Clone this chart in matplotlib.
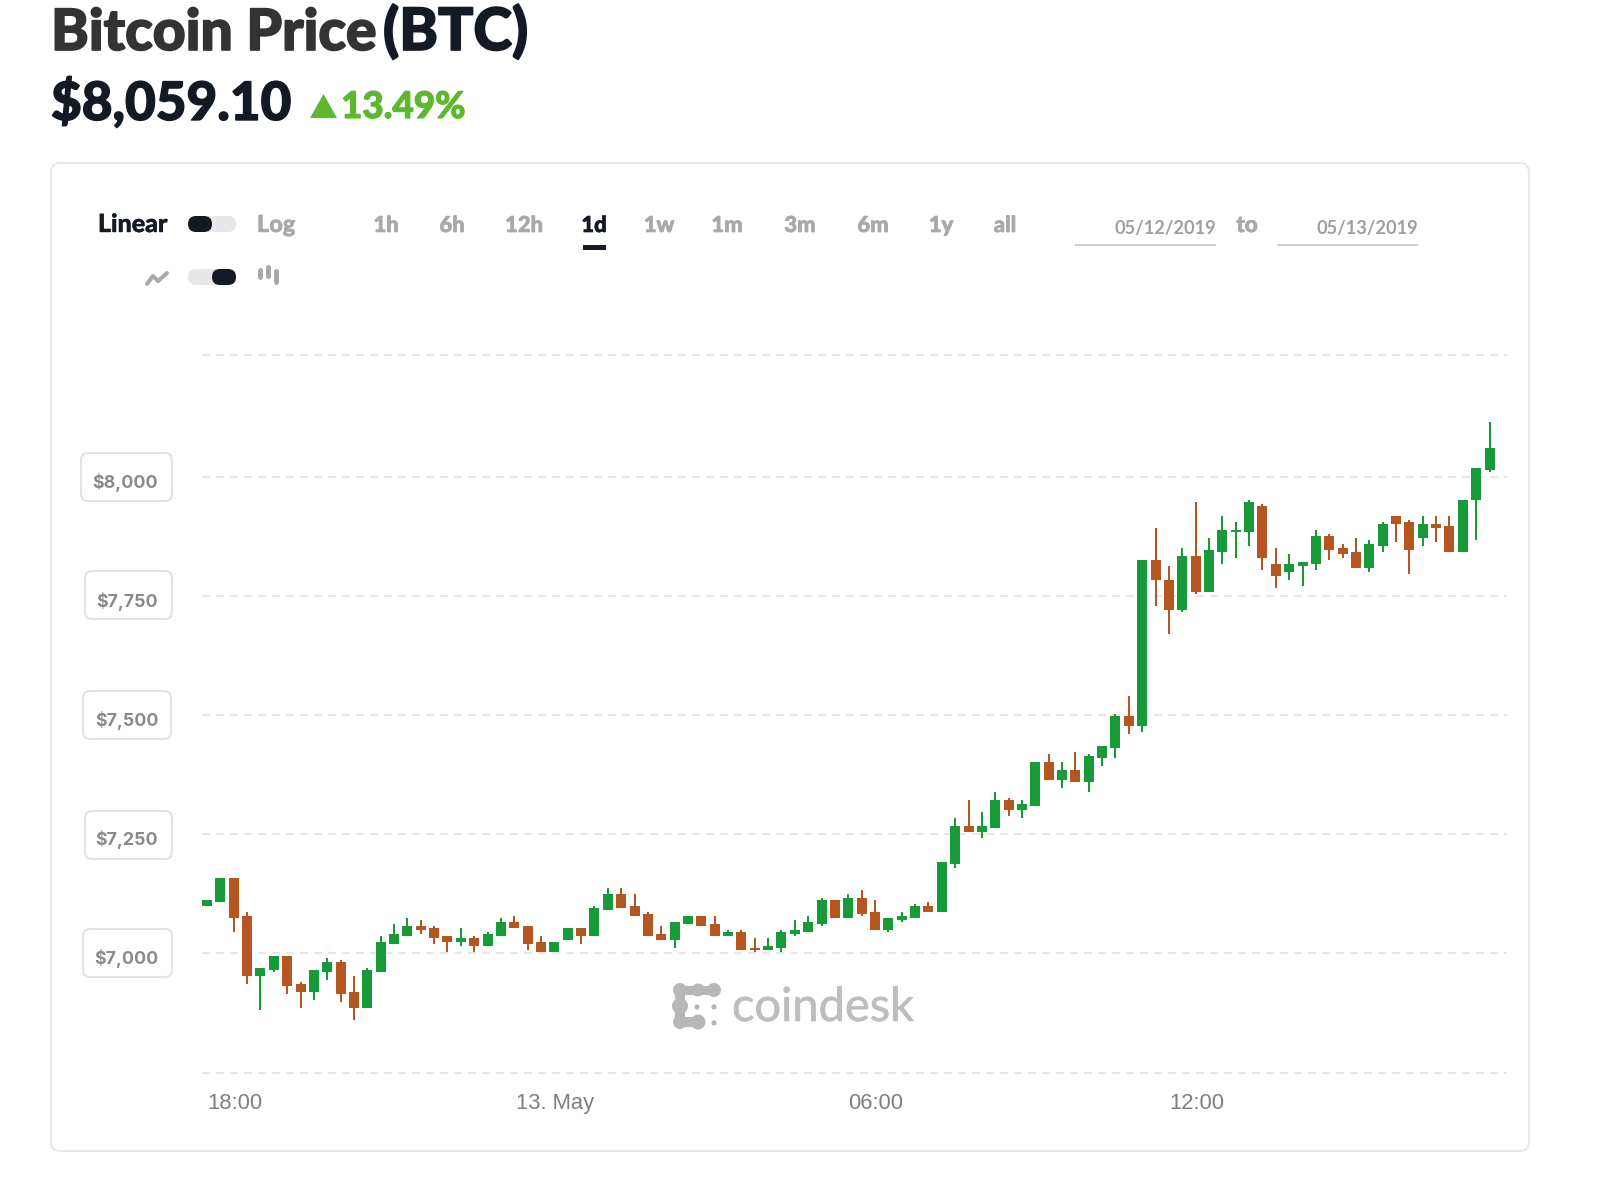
import matplotlib
matplotlib.use("Agg")
import numpy as np
import matplotlib.pyplot as plt
import matplotlib.patheffects as pe
from matplotlib.patches import FancyBboxPatch, Polygon, Circle
from matplotlib.transforms import ScaledTranslation

# ---- data (USD, 15-minute candles) ----
opens = [7098,7107,7157,7077,6951,6964,6993,6935,6918,6960,6981,6918,6884,6960,7019,7035,7056,7052,7035,7023,
         7031,7014,7035,7065,7056,7023,7002,7027,7052,7035,7090,7124,7098,7082,7040,7027,7061,7077,7061,7035,
         7044,7010,7006,7010,7040,7044,7061,7111,7073,7115,7086,7048,7069,7073,7098,7086,7186,7266,7254,7262,
         7321,7300,7308,7401,7363,7384,7359,7409,7430,7497,7476,7825,7783,7720,7833,7758,7842,7884,7884,7938,
         7817,7800,7812,7817,7875,7850,7842,7808,7854,7917,7905,7871,7901,7896,7842,7951,8014]
highs = [7111,7157,7157,7086,6968,6993,6993,6939,6964,6989,6985,6951,6968,7035,7061,7073,7069,7056,7035,7052,
         7035,7044,7073,7077,7056,7035,7023,7052,7052,7098,7136,7136,7124,7086,7056,7065,7077,7077,7077,7048,
         7048,7031,7031,7048,7069,7077,7115,7111,7124,7132,7111,7073,7086,7103,7107,7191,7283,7321,7296,7338,
         7325,7321,7401,7418,7401,7422,7418,7434,7502,7539,7825,7892,7812,7850,7947,7871,7917,7905,7951,7943,
         7850,7838,7821,7888,7880,7859,7871,7867,7905,7917,7909,7917,7917,7917,7951,8018,8115]
lows = [7098,7107,7044,6935,6880,6960,6914,6884,6901,6943,6897,6859,6884,6960,7019,7035,7040,7019,7002,7014,
        7002,7014,7035,7052,7006,7002,7002,7027,7019,7035,7090,7094,7077,7035,7027,7010,7061,7056,7035,7035,
        7006,7002,7006,7002,7035,7044,7056,7073,7073,7077,7048,7044,7065,7073,7086,7086,7178,7254,7241,7262,
        7287,7283,7308,7363,7346,7359,7338,7392,7409,7460,7464,7728,7670,7716,7754,7758,7817,7829,7854,7804,
        7766,7783,7770,7804,7825,7829,7808,7800,7842,7863,7796,7854,7863,7842,7842,7867,8010]
closes = [7111,7157,7073,6951,6968,6993,6930,6918,6964,6981,6914,6884,6964,7023,7040,7056,7048,7031,7023,7031,
          7014,7040,7065,7052,7019,7002,7023,7052,7035,7094,7124,7094,7077,7035,7027,7065,7077,7056,7035,7044,
          7006,7006,7014,7044,7048,7065,7111,7073,7115,7082,7048,7073,7077,7098,7086,7191,7266,7254,7266,7321,
          7300,7313,7401,7363,7384,7359,7413,7434,7497,7476,7825,7783,7720,7833,7758,7846,7888,7888,7947,7829,
          7791,7817,7821,7875,7846,7838,7808,7859,7901,7901,7846,7901,7892,7842,7951,8018,8060]

price_ticks = [7000, 7250, 7500, 7750, 8000]
price_labels = ["$7,000", "$7,250", "$7,500", "$7,750", "$8,000"]
grid_levels = [6747, 7000, 7250, 7500, 7750, 8000, 8256]
time_ticks = [2, 26, 50, 74]
time_labels = ["18:00", "13. May", "06:00", "12:00"]
ranges = ["1h", "6h", "12h", "1d", "1w", "1m", "3m", "6m", "1y", "all"]

UP = "#169b38"; DOWN = "#b55620"; GRID = "#e6e6e6"; DARK = "#141a24"; MUTED = "#a7a9ac"
W, H = 1598, 1190
HEAD = "Lato"
px = 0.72

fig = plt.figure(figsize=(W/100, H/100), dpi=100, facecolor="white")
bg = fig.add_axes([0, 0, 1, 1], zorder=0)
bg.set_xlim(0, W); bg.set_ylim(H, 0); bg.axis("off")

def rbox(x0, y0, x1, y1, r, fc="none", ec="none", lw=0.0):
    bg.add_patch(FancyBboxPatch((x0+r, y0+r), x1-x0-2*r, y1-y0-2*r,
                                boxstyle=f"round,pad={r},rounding_size={r}",
                                fc=fc, ec=ec, lw=lw))

def label(x, y, s, size, color, weight="bold", ha="left", family=HEAD, stroke=0.0):
    t = bg.text(x, y, s, fontsize=size*px, color=color, fontweight=weight,
                ha=ha, va="baseline", family=family)
    if stroke:
        t.set_path_effects([pe.withStroke(linewidth=stroke, foreground=color)])
    return t

# header
label(51, 50, "Bitcoin Price", 57, "#333333", weight="black", stroke=1.2)
label(383, 50, "(BTC)", 58.5, DARK, weight="black", stroke=1.2)
label(51, 120, "$8,059.10", 53, DARK, weight="black", stroke=1.0)
bg.add_patch(Polygon([[310, 118], [337, 118], [323.5, 94]], closed=True, fc="#5db82e", ec="none"))
label(341, 118, "13.49%", 36.8, "#5db82e", weight="black", stroke=0.8)

# card
rbox(51, 163, 1529, 1151, 9, fc="white", ec="#e8e8e8", lw=2*px)

# controls
label(98, 232, "Linear", 25, DARK, weight="black", stroke=0.3)
rbox(188, 216, 236, 232, 8, fc="#e6e7e9")
rbox(188, 216, 212, 232, 8, fc=DARK)
label(257, 232, "Log", 23.5, MUTED, weight="black", stroke=0.4)
range_x = [386, 452, 524, 594, 659, 727, 800, 873, 941, 1005]
for s, x in zip(ranges, range_x):
    label(x, 232, s, 22, DARK if s == "1d" else MUTED, weight="black", ha="center", stroke=0.5)
bg.add_patch(plt.Rectangle((583, 244.5), 23, 5, fc=DARK, ec="none"))
label(1216, 234, "05/12/2019", 18.3, "#9d9fa3", weight="bold", ha="right")
bg.plot([1076, 1215], [245, 245], color="#cfcfcf", lw=2*px)
label(1247, 232, "to", 22.5, MUTED, weight="black", ha="center", stroke=0.5)
label(1418, 234, "05/13/2019", 18.3, "#9d9fa3", weight="bold", ha="right")
bg.plot([1278, 1417], [245, 245], color="#cfcfcf", lw=2*px)
bg.plot([147, 153, 158, 167], [284, 276, 281, 273], color=MUTED, lw=4*px, solid_capstyle="round", solid_joinstyle="round")
rbox(188, 269, 236, 285, 8, fc="#e6e7e9")
rbox(212, 269, 236, 285, 8, fc=DARK)
for x, y0, y1 in [(259.5, 270, 277), (267.5, 267, 276), (275.5, 271, 282)]:
    bg.plot([x, x], [y0, y1], color=MUTED, lw=5*px, solid_capstyle="round")

# y label boxes
for x0, x1, y0 in [(81, 172, 453), (85, 172, 571), (83, 171, 691), (85, 172, 811), (83, 172, 929)]:
    rbox(x0, y0, x1, y0+48, 7, fc="white", ec="#e2e2e2", lw=2*px)

# logo
LOGO = "#b7b7b7"
bg.plot([680, 713], [990, 990], color=LOGO, lw=9*px)
bg.plot([680, 680, 698], [990, 1022, 1022], color=LOGO, lw=10*px, solid_joinstyle="round")
for cx, cy, r in [(680, 990, 7), (698, 990, 6.5), (714, 990, 7), (680, 1006, 8), (680, 1022, 7), (698, 1022, 7.5)]:
    bg.add_patch(Circle((cx, cy), r, fc=LOGO, ec="none"))
for cx, cy in [(697, 1007), (714, 1007), (714, 1023)]:
    bg.add_patch(Circle((cx, cy), 2.6, fc=LOGO, ec="none"))
label(732, 1021, "coindesk", 47, "#bdbdbd", weight="normal", stroke=0.4)

# chart
ax_top, ax_bot = 345, 1085
ax_left, ax_right = 202, 1506.5
ax = fig.add_axes([ax_left/W, 1-ax_bot/H, (ax_right-ax_left)/W, (ax_bot-ax_top)/H], zorder=1)
ax.patch.set_alpha(0)
for s in ax.spines.values():
    s.set_visible(False)
x = np.arange(len(opens))
o, c, h, l = map(np.array, (opens, closes, highs, lows))
colors = [UP if b >= a else DOWN for a, b in zip(o, c)]
for lev in grid_levels:
    ax.axhline(lev, color=GRID, lw=2*px, ls=(0, (4, 3)), zorder=1)
ax.vlines(x, l, h, colors=colors, lw=2*px, zorder=2)
ax.bar(x, np.abs(c-o), bottom=np.minimum(o, c), width=10/13.36, color=colors, linewidth=0, zorder=3)
ax.set_xlim((ax_left-207)/13.36, (ax_right-207)/13.36)
ax.set_ylim(7000+(952.67-ax_bot)/.476, 7000+(952.67-ax_top)/.476)
ax.set_xticks(time_ticks, time_labels, fontsize=22*px, color="#7f7f7f", family="Liberation Sans")
ax.tick_params(axis="x", length=0, pad=5.6)
ax.set_yticks(price_ticks, price_labels, fontsize=17.8*px, color="#8a8a8a", family="Inter", fontweight="bold", va="center")
ax.tick_params(axis="y", length=0, pad=31.5)
shift_y = ScaledTranslation(0, -6/100, fig.dpi_scale_trans)
for t in ax.get_yticklabels():
    t.set_transform(t.get_transform() + shift_y)
shift_x = ScaledTranslation(1/100, 0, fig.dpi_scale_trans)
for t in ax.get_xticklabels():
    t.set_transform(t.get_transform() + shift_x)

fig.savefig("out.png", dpi=100, facecolor="white")
